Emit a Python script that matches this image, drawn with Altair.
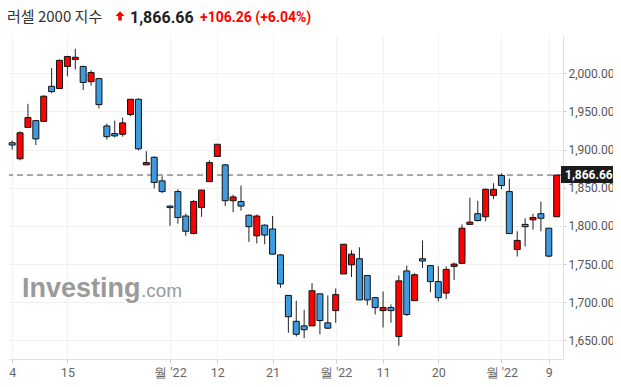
import json
import altair as alt
import numpy as np
import pandas as pd

# ---- data ----
opens  = [1909, 1888, 1929, 1938, 1937, 1983, 1980, 2009, 2018, 2009,
          1989, 1993, 1931, 1921, 1920, 1946, 1966, 1880, 1890, 1859,
          1826, 1845, 1813, 1790, 1824, 1858, 1891, 1880, 1833, 1832,
          1814, 1787, 1801, 1796, 1762, 1709, 1675, 1669, 1669, 1711,
          1673, 1689, 1737, 1749, 1757, 1735, 1706, 1689, 1693, 1655,
          1741, 1702, 1757, 1748, 1727, 1712, 1747, 1751, 1802, 1816,
          1812, 1840, 1866, 1845, 1769, 1802, 1808, 1816, 1797, 1812]
highs  = [1912, 1924, 1960, 1939, 1971, 2007, 2018, 2023, 2032, 2010,
          2004, 1994, 1934, 1938, 1942, 1966, 1967, 1898, 1891, 1865,
          1827, 1848, 1816, 1834, 1847, 1886, 1907, 1881, 1841, 1853,
          1815, 1815, 1802, 1813, 1763, 1709, 1702, 1690, 1725, 1711,
          1709, 1718, 1776, 1768, 1772, 1735, 1707, 1714, 1697, 1735,
          1748, 1738, 1781, 1748, 1747, 1747, 1752, 1802, 1837, 1833,
          1849, 1856, 1869, 1862, 1793, 1810, 1816, 1832, 1797, 1866.66]
lows   = [1900, 1886, 1929, 1906, 1937, 1974, 1980, 1996, 2005, 1978,
          1984, 1954, 1913, 1916, 1917, 1944, 1899, 1880, 1849, 1843,
          1800, 1803, 1787, 1789, 1812, 1858, 1891, 1826, 1818, 1820,
          1779, 1777, 1776, 1763, 1719, 1660, 1655, 1653, 1669, 1658,
          1665, 1673, 1737, 1733, 1703, 1696, 1684, 1667, 1673, 1643,
          1682, 1702, 1745, 1713, 1701, 1704, 1729, 1751, 1802, 1806,
          1806, 1835, 1848, 1790, 1760, 1773, 1795, 1793, 1759, 1812]
closes = [1906, 1922, 1942, 1914, 1970, 1976, 2017, 2022, 2021, 1988,
          2001, 1959, 1917, 1918, 1935, 1966, 1901, 1883, 1857, 1845,
          1824, 1811, 1793, 1832, 1847, 1883, 1907, 1833, 1838, 1826,
          1799, 1813, 1788, 1763, 1724, 1681, 1658, 1664, 1715, 1676,
          1666, 1710, 1776, 1763, 1703, 1703, 1693, 1693, 1689, 1728,
          1684, 1736, 1754, 1727, 1706, 1743, 1750, 1797, 1805, 1807,
          1848, 1848, 1853, 1790, 1781, 1799, 1811, 1810, 1760.40, 1866.66]

tick_idx    = [0, 7, 20, 26, 33, 41, 47, 54, 62, 68]
tick_labels = ["4", "15", "월 '22", "12", "21", "월 '22", "11", "20", "월 '22", "9"]
y_ticks     = [1650, 1700, 1750, 1800, 1850, 1900, 1950, 2000]
last_price  = [1866.66]
title_name  = "러셀 2000 지수"
price_text  = "1,866.66"
change_text = "+106.26 (+6.04%)"
watermark   = ["Investing", ".com"]

# ---- table ----
df = pd.DataFrame({"i": np.arange(len(opens)), "open": opens, "high": highs,
                   "low": lows, "close": closes})
df["dir"] = np.where(df["close"] >= df["open"], "up", "down")

label_expr = ""
for v, l in zip(tick_idx, tick_labels):
    label_expr += f"datum.value == {v} ? {json.dumps(l)} : "
label_expr += "''"

W, H = 554, 324
xs = alt.Scale(domain=[-0.4, 69.8], nice=False, zero=False, padding=0)
ys = alt.Scale(domain=[1625.6, 2050.2], nice=False, zero=False, padding=0)

x_axis = alt.Axis(values=tick_idx, labelExpr=label_expr, grid=True, gridColor="#f2f2f2",
                  domainColor="#dde2ea", tickColor="#c8ccd2", tickSize=4,
                  labelColor="#666666", labelFont="Roboto", labelFontSize=12.5,
                  labelPadding=3, title=None)
y_axis = alt.Axis(values=y_ticks, format=",.2f", orient="right", grid=True,
                  gridColor="#f0f0f0", domainColor="#dde2ea", tickColor="#c8ccd2",
                  tickSize=3, labelColor="#555555", labelFont="Roboto",
                  labelFontSize=12, labelPadding=2, title=None)

base = alt.Chart(df)

wicks = base.mark_rule(color="#222222", strokeWidth=1).encode(
    x=alt.X("i:Q", scale=xs, axis=x_axis, title=None),
    y=alt.Y("low:Q", scale=ys, axis=y_axis, title=None),
    y2="high:Q",
)

bodies = base.mark_bar(size=6, stroke="#111111", strokeWidth=1).encode(
    x=alt.X("i:Q", scale=xs, title=None),
    y=alt.Y("open:Q", scale=ys, title=None),
    y2="close:Q",
    color=alt.Color("dir:N", scale=alt.Scale(domain=["up", "down"],
                                             range=["#ff0000", "#3f9be0"]),
                    legend=None),
)

lp = pd.DataFrame({"v": last_price})
dash = alt.Chart(lp).mark_rule(color="#555555", strokeWidth=1, strokeDash=[6, 4]).encode(
    y=alt.Y("v:Q", scale=ys, title=None)
)
tag_box = alt.Chart(lp).mark_rect(color="#1c1c1c", yOffset=-9, y2Offset=8).encode(
    x=alt.value(552), x2=alt.value(604),
    y=alt.Y("v:Q", scale=ys, title=None), y2="v:Q",
)
tag_text = alt.Chart(lp).mark_text(align="left", baseline="middle", color="white",
                                   font="Roboto", fontSize=12, fontWeight="bold").encode(
    x=alt.value(556), y=alt.Y("v:Q", scale=ys, title=None),
    text=alt.Text("v:Q", format=",.2f"),
)

one = pd.DataFrame({"a": [0]})
wm1 = alt.Chart(one).mark_text(text=watermark[0], align="left", baseline="alphabetic",
                               font="Liberation Sans", fontSize=27, fontWeight="bold",
                               color="#9a9a9a").encode(x=alt.value(13), y=alt.value(262))
wm2 = alt.Chart(one).mark_text(text=watermark[1], align="left", baseline="alphabetic",
                               font="Liberation Sans", fontSize=19,
                               color="#9a9a9a").encode(x=alt.value(132), y=alt.value(262))

arrow_path = "M0,-1 L0.95,0 L0.38,0 L0.38,0.95 L-0.38,0.95 L-0.38,0 L-0.95,0 Z"
h1 = alt.Chart(one).mark_text(text=title_name, align="left", baseline="top",
                              font="Noto Sans CJK KR", fontSize=15, color="#333333").encode(
    x=alt.value(-2), y=alt.value(-25))
h_arrow = alt.Chart(one).mark_point(shape=arrow_path, filled=True, color="#ff0000",
                                    size=90, opacity=1, strokeWidth=0).encode(
    x=alt.value(111), y=alt.value(-19))
h2 = alt.Chart(one).mark_text(text=price_text, align="left", baseline="top",
                              font="Roboto", fontSize=16, fontWeight="bold",
                              color="#222222").encode(x=alt.value(121), y=alt.value(-25))
h3 = alt.Chart(one).mark_text(text=change_text, align="left", baseline="top",
                              font="Roboto", fontSize=14, fontWeight="bold",
                              color="#ff0000").encode(x=alt.value(191), y=alt.value(-24))

chart = alt.layer(wicks, wm1, wm2, dash, bodies, tag_box, tag_text,
                  h1, h_arrow, h2, h3).properties(
    width=W, height=H,
    autosize=alt.AutoSizeParams(type="none"),
    padding={"left": 1, "top": 27, "right": 50, "bottom": 20},
).configure_view(stroke=None)

chart.save("out.html", embed_options={"renderer": "svg", "actions": False})
